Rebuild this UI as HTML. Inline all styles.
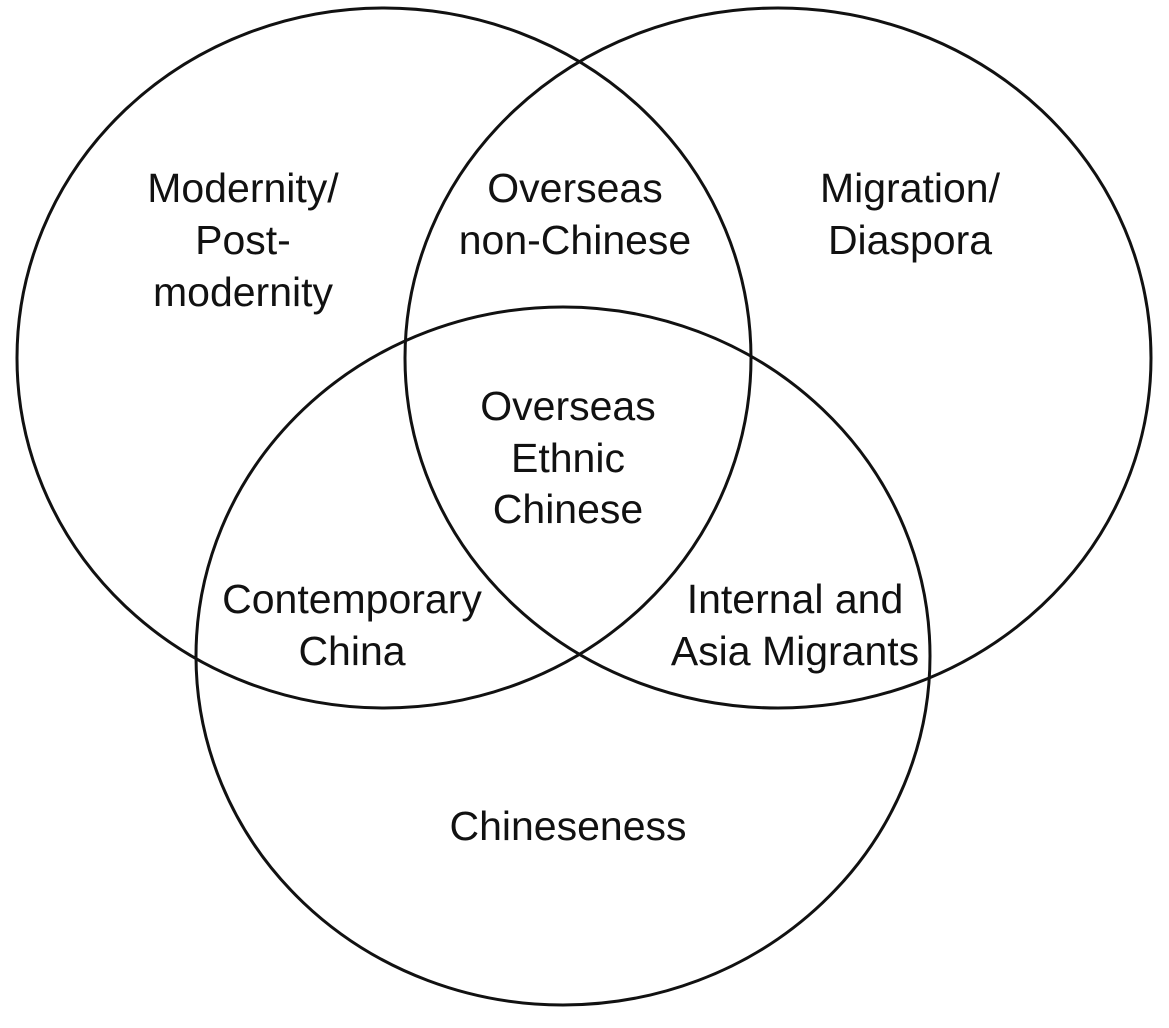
<!DOCTYPE html>
<html><head><meta charset="utf-8"><style>
html,body{margin:0;padding:0;background:#fff;}
svg{display:block;}
text{font-family:"Liberation Sans",Arial,sans-serif;font-size:41px;fill:#111;text-anchor:middle;}
</style></head><body>
<svg width="1169" height="1028" viewBox="0 0 1169 1028" xmlns="http://www.w3.org/2000/svg">
<rect width="1169" height="1028" fill="#fff"/>
<g fill="none" stroke="#111" stroke-width="3">
<ellipse cx="384" cy="358" rx="367" ry="350"/>
<ellipse cx="778" cy="358" rx="373" ry="350"/>
<ellipse cx="563" cy="656" rx="367" ry="349"/>
</g>
<text x="243" y="202">Modernity/</text>
<text x="243" y="254">Post-</text>
<text x="243" y="306">modernity</text>
<text x="575" y="202">Overseas</text>
<text x="575" y="254">non-Chinese</text>
<text x="910" y="202">Migration/</text>
<text x="910" y="254">Diaspora</text>
<text x="568" y="420">Overseas</text>
<text x="568" y="472">Ethnic</text>
<text x="568" y="523">Chinese</text>
<text x="352" y="613">Contemporary</text>
<text x="352" y="665">China</text>
<text x="795" y="613">Internal and</text>
<text x="795" y="665">Asia Migrants</text>
<text x="568" y="840">Chineseness</text>
</svg>
</body></html>
